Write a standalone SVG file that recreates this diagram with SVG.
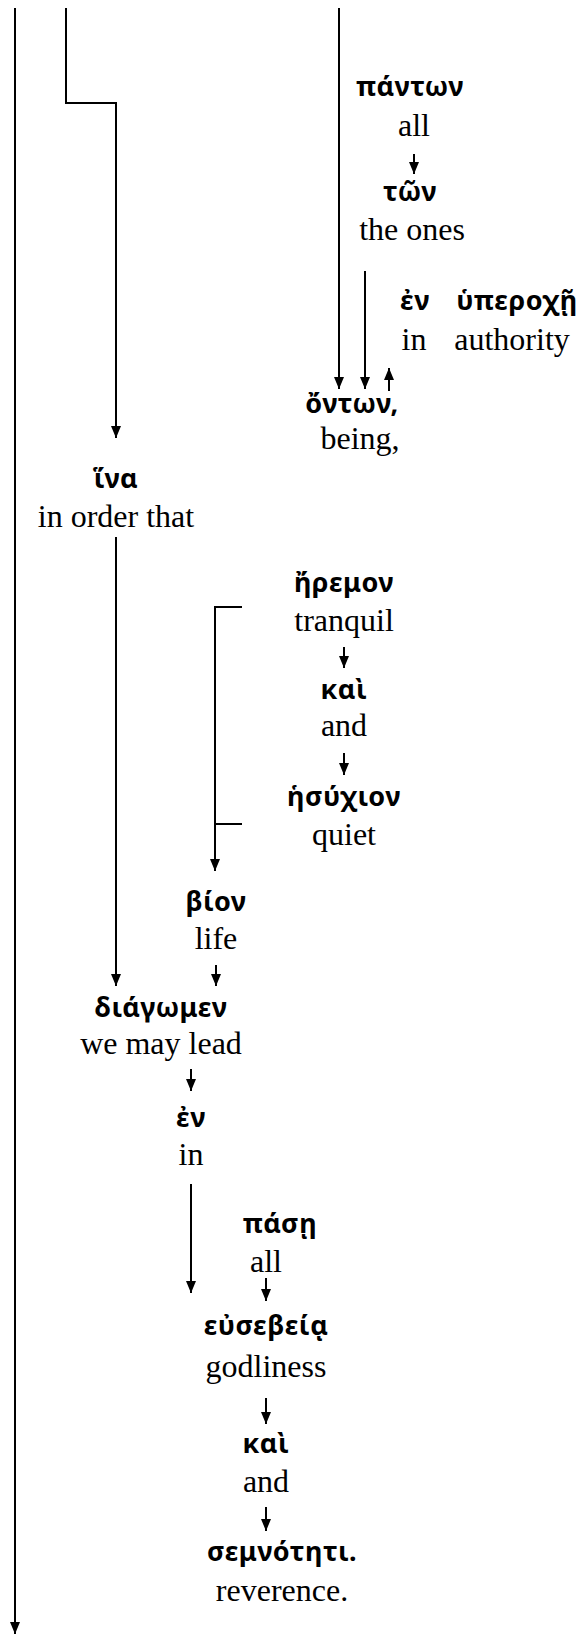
<svg xmlns="http://www.w3.org/2000/svg" width="581" height="1635" viewBox="0 0 581 1635">
<style>
.g{font-family:"Noto Sans","DejaVu Sans",sans-serif;font-weight:bold;font-size:27px;letter-spacing:0.5px;text-anchor:middle;fill:#000}
.e{font-family:"Liberation Serif","Times New Roman",serif;font-size:32px;text-anchor:middle;fill:#000}
.c{stroke:#000;stroke-width:2;fill:none}
</style>
<defs>
<marker id="ad" markerUnits="userSpaceOnUse" markerWidth="12" markerHeight="14" refX="6" refY="12" orient="0" viewBox="0 0 12 14">
<path d="M1,0 L11,0 L6,12 Z" fill="#000"/>
</marker>
<marker id="au" markerUnits="userSpaceOnUse" markerWidth="12" markerHeight="14" refX="6" refY="0" orient="0" viewBox="0 0 12 14">
<path d="M1,12 L11,12 L6,0 Z" fill="#000"/>
</marker>
</defs>
<g id="connectors">
<path class="c" marker-end="url(#ad)" d="M15,8 V1634"/>
<path class="c" marker-end="url(#ad)" d="M66,8 V103 H116 V438"/>
<path class="c" marker-end="url(#ad)" d="M339,8 V389"/>
<path class="c" marker-end="url(#ad)" d="M414,154 V174"/>
<path class="c" marker-end="url(#ad)" d="M365,271 V389"/>
<path class="c" marker-start="url(#au)" d="M389,368 V391"/>
<path class="c" marker-end="url(#ad)" d="M116,537 V986"/>
<path class="c" marker-end="url(#ad)" d="M344,647 V668"/>
<path class="c" marker-end="url(#ad)" d="M344,753 V775"/>
<path class="c" marker-end="url(#ad)" d="M242,607 H215 V871"/>
<path class="c" d="M215,824 H242"/>
<path class="c" marker-end="url(#ad)" d="M216,965 V986"/>
<path class="c" marker-end="url(#ad)" d="M191,1069 V1091"/>
<path class="c" marker-end="url(#ad)" d="M191,1184 V1293"/>
<path class="c" marker-end="url(#ad)" d="M266,1278 V1301"/>
<path class="c" marker-end="url(#ad)" d="M266,1398 V1424"/>
<path class="c" marker-end="url(#ad)" d="M266,1507 V1531"/>
</g>
<g id="n-panton"><text class="g" x="410" y="96">πάντων</text><text class="e" x="414" y="136">all</text></g>
<g id="n-ton"><text class="g" x="410" y="201">τῶν</text><text class="e" x="412" y="240">the ones</text></g>
<g id="n-en1"><text class="g" x="415" y="310">ἐν</text><text class="e" x="414" y="350">in</text></g>
<g id="n-hyperoche"><text class="g" x="517" y="310">ὑπεροχῇ</text><text class="e" x="512" y="350">authority</text></g>
<g id="n-onton"><text class="g" x="352" y="413">ὄντων,</text><text class="e" x="360" y="449">being,</text></g>
<g id="n-hina"><text class="g" x="116" y="488">ἵνα</text><text class="e" x="116" y="527">in order that</text></g>
<g id="n-eremon"><text class="g" x="344" y="592">ἤρεμον</text><text class="e" x="344" y="631">tranquil</text></g>
<g id="n-kai1"><text class="g" x="344" y="699">καὶ</text><text class="e" x="344" y="736">and</text></g>
<g id="n-hesychion"><text class="g" x="344" y="806">ἡσύχιον</text><text class="e" x="344" y="845">quiet</text></g>
<g id="n-bion"><text class="g" x="216" y="911">βίον</text><text class="e" x="216" y="949">life</text></g>
<g id="n-diagomen"><text class="g" x="161" y="1017">διάγωμεν</text><text class="e" x="161" y="1054">we may lead</text></g>
<g id="n-en2"><text class="g" x="191" y="1127">ἐν</text><text class="e" x="191" y="1165">in</text></g>
<g id="n-pase"><text class="g" x="280" y="1233">πάσῃ</text><text class="e" x="266" y="1272">all</text></g>
<g id="n-eusebeia"><text class="g" x="266" y="1335">εὐσεβείᾳ</text><text class="e" x="266" y="1377">godliness</text></g>
<g id="n-kai2"><text class="g" x="266" y="1453">καὶ</text><text class="e" x="266" y="1492">and</text></g>
<g id="n-semnoteti"><text class="g" x="282" y="1561">σεμνότητι.</text><text class="e" x="282" y="1601">reverence.</text></g>
</svg>
